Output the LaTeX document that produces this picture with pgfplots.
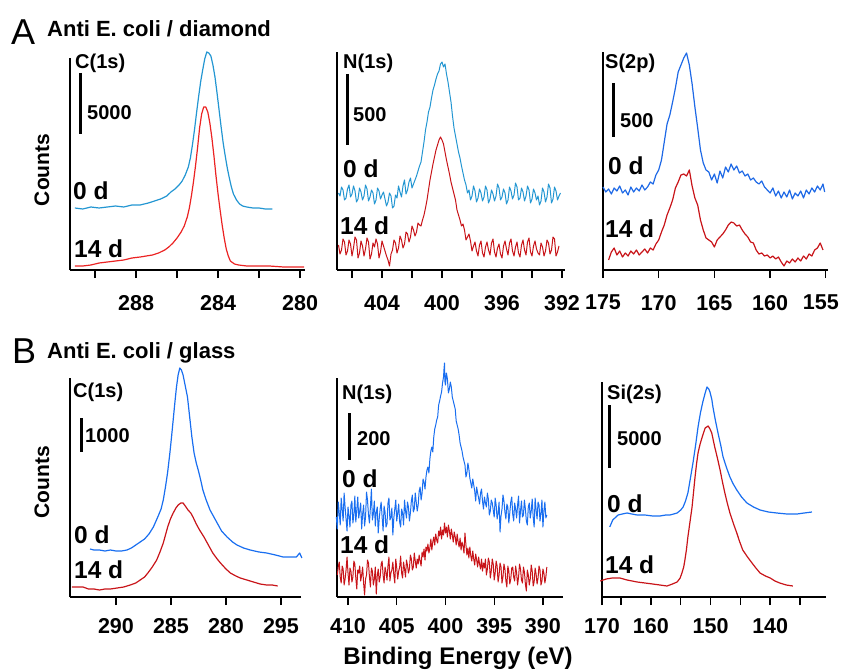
\documentclass[border=0pt]{standalone}
\usepackage{pgfplots}
\pgfplotsset{compat=1.18}
\usepackage{fontspec}
\setmainfont{Liberation Sans}
\definecolor{cyanb}{RGB}{35,150,210}
\definecolor{redA}{RGB}{235,35,35}
\definecolor{redD}{RGB}{200,20,25}
\definecolor{blueA}{RGB}{30,105,230}
\definecolor{blueB}{RGB}{25,110,240}
\newcommand{\tk}{\fontsize{21.5}{21.5}\selectfont\bfseries}
\newcommand{\lb}{\fontsize{20}{20}\selectfont\bfseries}
\newcommand{\dy}{\fontsize{24.5}{24.5}\selectfont\bfseries}
\pgfplotsset{
 panel/.style={
  scale only axis, anchor=south west, clip=false,
  axis x line*=bottom, axis y line=none,
  x dir=reverse, ymin=0,
  xtick align=outside, major tick length=8pt, minor tick length=8pt,
  tick style={line width=1.4pt, black},
  axis line style={line width=1.4pt},
  xticklabel style={font=\tk, inner sep=0pt},
  /pgf/number format/assume math mode=true,
  /pgf/number format/1000 sep={},
  every axis plot/.append style={line width=1.2pt, mark=none, line join=round},
 },
 toprow/.style={xticklabel style={yshift=-17pt}},
 botrow/.style={xticklabel style={yshift=-13pt}},
}
\begin{document}
\begin{tikzpicture}[x=1pt,y=1pt]
\useasboundingbox (0pt,0pt) rectangle (842pt,670pt);
% ---------------- A1 C(1s) diamond
\begin{axis}[panel, toprow, at={(70pt,400pt)}, width=235pt, height=212pt,
  xmin=279.76, xmax=291.22, ymax=212,
  xtick={288,284,280}, minor xtick={290,286,282}]
\draw[line width=1.4pt] (axis description cs:0,0) -- (axis description cs:0,1);
\addplot[cyanb] table[row sep=\\]{x y\\
290.98 62\\ 290.6 61\\ 290.2 63\\ 289.8 62\\ 289.4 63\\ 289.0 64\\ 288.6 63\\ 288.2 65\\ 287.8 65\\ 287.4 67\\
287.1 69\\ 286.8 71\\ 286.5 74\\ 286.3 78\\ 286.1 81\\ 285.9 85\\ 285.75 89\\ 285.6 95\\ 285.45 103\\ 285.35 112\\
285.25 125\\ 285.15 140\\ 285.05 157\\ 284.95 173\\ 284.85 188\\ 284.75 200\\ 284.65 211\\ 284.55 218\\ 284.45 217\\ 284.35 214\\
284.25 205\\ 284.15 193\\ 284.05 177\\ 283.95 160\\ 283.85 143\\ 283.75 127\\ 283.65 114\\ 283.55 102\\ 283.45 92\\ 283.35 83\\
283.25 76\\ 283.1 70\\ 282.95 66\\ 282.8 64\\ 282.6 63\\ 282.3 62\\ 282.0 62\\ 281.7 61\\ 281.35 61\\};
\addplot[redA] table[row sep=\\]{x y\\
290.98 4\\ 290.6 4\\ 290.2 5\\ 289.8 7\\ 289.4 8\\ 289.0 9\\ 288.6 10\\ 288.2 12\\ 287.8 13\\ 287.5 14\\
287.2 15\\ 286.9 17\\ 286.6 20\\ 286.4 23\\ 286.2 27\\ 286.0 32\\ 285.8 38\\ 285.65 44\\ 285.5 53\\ 285.4 62\\
285.3 74\\ 285.2 88\\ 285.1 104\\ 285.0 122\\ 284.9 142\\ 284.8 156\\ 284.7 163\\ 284.6 163\\ 284.5 158\\ 284.4 147\\
284.3 132\\ 284.2 114\\ 284.1 94\\ 284.0 76\\ 283.9 60\\ 283.8 45\\ 283.7 32\\ 283.6 21\\ 283.5 14\\ 283.4 9\\
283.2 6\\ 283.0 5\\ 282.6 4\\ 282.2 4\\ 281.5 4\\ 280.8 3\\ 280.2 3\\ 279.8 3\\};
\end{axis}
% ---------------- A2 N(1s) diamond
\begin{axis}[panel, toprow, at={(337pt,400pt)}, width=228pt, height=218pt,
  xmin=391.8, xmax=407.0, ymax=218,
  xtick={404,400,396,392}, minor xtick={406,402,398,394}]
\draw[line width=1.4pt] (axis description cs:0,0) -- (axis description cs:0,1);
\addplot[cyanb, line width=1pt] table[row sep=\\]{x y\\
406.9 77\\ 406.8 74\\ 406.7 83\\ 406.6 80\\ 406.5 70\\ 406.4 72\\ 406.3 81\\ 406.2 85\\ 406.1 73\\ 406.0 76\\
405.9 84\\ 405.8 79\\ 405.7 68\\ 405.6 71\\ 405.5 82\\ 405.4 78\\ 405.3 70\\ 405.2 74\\ 405.1 85\\ 405.0 81\\
404.9 69\\ 404.8 73\\ 404.7 80\\ 404.6 77\\ 404.5 66\\ 404.4 70\\ 404.3 82\\ 404.2 79\\ 404.1 71\\ 404.0 75\\
403.9 78\\ 403.8 71\\ 403.7 64\\ 403.6 68\\ 403.5 77\\ 403.4 74\\ 403.3 62\\ 403.2 64\\ 403.1 75\\ 403.0 72\\
402.9 84\\ 402.8 78\\ 402.7 73\\ 402.6 84\\ 402.5 90\\ 402.4 76\\ 402.3 80\\ 402.2 88\\ 402.1 92\\ 402.0 82\\
401.9 86\\ 401.8 90\\ 401.7 94\\ 401.6 99\\ 401.5 104\\ 401.4 108\\ 401.3 118\\ 401.2 128\\ 401.1 140\\ 401.0 148\\
400.9 158\\ 400.8 163\\ 400.7 172\\ 400.6 180\\ 400.5 185\\ 400.4 191\\ 400.3 196\\ 400.2 199\\ 400.1 206\\ 400.0 208\\
399.9 203\\ 399.8 206\\ 399.7 196\\ 399.6 188\\ 399.5 178\\ 399.4 168\\ 399.3 154\\ 399.2 142\\ 399.1 134\\ 399.0 126\\
398.9 118\\ 398.8 112\\ 398.7 104\\ 398.6 97\\ 398.5 90\\ 398.4 85\\ 398.3 77\\ 398.2 80\\ 398.1 70\\ 398.0 74\\
397.9 84\\ 397.8 79\\ 397.7 68\\ 397.6 72\\ 397.5 81\\ 397.4 77\\ 397.3 69\\ 397.2 73\\ 397.1 84\\ 397.0 80\\
396.9 67\\ 396.8 71\\ 396.7 80\\ 396.6 76\\ 396.5 69\\ 396.4 74\\ 396.3 86\\ 396.2 82\\ 396.1 70\\ 396.0 73\\
395.9 81\\ 395.8 77\\ 395.7 66\\ 395.6 70\\ 395.5 83\\ 395.4 79\\ 395.3 71\\ 395.2 75\\ 395.1 87\\ 395.0 83\\
394.9 70\\ 394.8 72\\ 394.7 82\\ 394.6 78\\ 394.5 69\\ 394.4 74\\ 394.3 84\\ 394.2 80\\ 394.1 67\\ 394.0 71\\
393.9 81\\ 393.8 77\\ 393.7 70\\ 393.6 74\\ 393.5 65\\ 393.4 69\\ 393.3 82\\ 393.2 78\\ 393.1 68\\ 393.0 73\\
392.9 86\\ 392.8 82\\ 392.7 67\\ 392.6 71\\ 392.5 83\\ 392.4 79\\ 392.3 70\\ 392.2 74\\ 392.1 77\\};
\addplot[redD, line width=1pt] table[row sep=\\]{x y\\
406.9 25\\ 406.8 16\\ 406.7 20\\ 406.6 31\\ 406.5 28\\ 406.4 15\\ 406.3 19\\ 406.2 30\\ 406.1 26\\ 406.0 14\\
405.9 22\\ 405.8 33\\ 405.7 30\\ 405.6 12\\ 405.5 17\\ 405.4 29\\ 405.3 24\\ 405.2 14\\ 405.1 21\\ 405.0 32\\
404.9 28\\ 404.8 11\\ 404.7 16\\ 404.6 27\\ 404.5 23\\ 404.4 31\\ 404.3 26\\ 404.2 12\\ 404.1 18\\ 404.0 29\\
403.9 24\\ 403.8 19\\ 403.7 14\\ 403.6 10\\ 403.5 4\\ 403.4 16\\ 403.3 20\\ 403.2 30\\ 403.1 27\\ 403.0 17\\
402.9 22\\ 402.8 34\\ 402.7 30\\ 402.6 22\\ 402.5 26\\ 402.4 38\\ 402.3 36\\ 402.2 28\\ 402.1 33\\ 402.0 44\\
401.9 40\\ 401.8 34\\ 401.7 38\\ 401.6 47\\ 401.5 45\\ 401.4 44\\ 401.3 50\\ 401.2 55\\ 401.1 62\\ 401.0 70\\
400.9 80\\ 400.8 90\\ 400.7 98\\ 400.6 106\\ 400.5 113\\ 400.4 120\\ 400.3 125\\ 400.2 130\\ 400.1 133\\ 400.0 130\\
399.9 126\\ 399.8 118\\ 399.7 110\\ 399.6 103\\ 399.5 96\\ 399.4 88\\ 399.3 82\\ 399.2 76\\ 399.1 70\\ 399.0 60\\
398.9 55\\ 398.8 50\\ 398.7 44\\ 398.6 46\\ 398.5 40\\ 398.4 30\\ 398.3 33\\ 398.2 36\\ 398.1 29\\ 398.0 19\\
397.9 24\\ 397.8 28\\ 397.7 19\\ 397.6 14\\ 397.5 25\\ 397.4 29\\ 397.3 17\\ 397.2 13\\ 397.1 23\\ 397.0 28\\
396.9 20\\ 396.8 15\\ 396.7 27\\ 396.6 31\\ 396.5 18\\ 396.4 13\\ 396.3 22\\ 396.2 26\\ 396.1 16\\ 396.0 12\\
395.9 24\\ 395.8 29\\ 395.7 21\\ 395.6 15\\ 395.5 27\\ 395.4 31\\ 395.3 19\\ 395.2 14\\ 395.1 23\\ 395.0 28\\
394.9 17\\ 394.8 13\\ 394.7 25\\ 394.6 30\\ 394.5 20\\ 394.4 15\\ 394.3 28\\ 394.2 32\\ 394.1 18\\ 394.0 14\\
393.9 24\\ 393.8 29\\ 393.7 21\\ 393.6 17\\ 393.5 15\\ 393.4 27\\ 393.3 23\\ 393.2 14\\ 393.1 19\\ 393.0 30\\
392.9 27\\ 392.8 16\\ 392.7 20\\ 392.6 33\\ 392.5 31\\ 392.4 14\\ 392.3 18\\ 392.2 24\\};
\end{axis}
% ---------------- A3 S(2p) diamond
\begin{axis}[panel, toprow, at={(603pt,400pt)}, width=225pt, height=218pt,
  xmin=154.8, xmax=175, ymax=218,
  xtick={175,170,165,160,155}, xticklabels={175,170,165,160,{\kern-10pt 155}}]
\draw[line width=1.4pt] (axis description cs:0,0) -- (axis description cs:0,1);
\addplot[blueA] table[row sep=\\]{x y\\
175.0 83\\ 174.75 78\\ 174.5 81\\ 174.25 76\\ 174.0 82\\ 173.75 79\\ 173.5 84\\ 173.25 77\\ 173.0 80\\ 172.75 75\\
172.5 83\\ 172.25 78\\ 172.0 82\\ 171.75 79\\ 171.5 85\\ 171.25 80\\ 171.0 83\\ 170.75 88\\ 170.5 86\\ 170.25 95\\
170.0 100\\ 169.75 110\\ 169.5 128\\ 169.25 146\\ 169.0 155\\ 168.75 168\\ 168.5 182\\ 168.25 198\\ 168.0 205\\ 167.75 212\\
167.5 217\\ 167.25 205\\ 167.0 186\\ 166.75 163\\ 166.5 142\\ 166.25 120\\ 166.0 107\\ 165.75 100\\ 165.5 98\\ 165.25 90\\
165.0 96\\ 164.75 87\\ 164.5 99\\ 164.25 92\\ 164.0 103\\ 163.75 98\\ 163.5 106\\ 163.25 100\\ 163.0 104\\ 162.75 97\\
162.5 99\\ 162.25 94\\ 162.0 96\\ 161.75 90\\ 161.5 92\\ 161.25 88\\ 161.0 86\\ 160.75 89\\ 160.5 83\\ 160.25 80\\
160.0 77\\ 159.75 82\\ 159.5 74\\ 159.25 79\\ 159.0 72\\ 158.75 78\\ 158.5 73\\ 158.25 80\\ 158.0 71\\ 157.75 77\\
157.5 74\\ 157.25 79\\ 157.0 72\\ 156.75 80\\ 156.5 76\\ 156.25 82\\ 156.0 78\\ 155.75 84\\ 155.5 80\\ 155.25 86\\ 155.1 78\\};
\addplot[redD] table[row sep=\\]{x y\\
174.5 10\\ 174.25 18\\ 174.0 22\\ 173.75 15\\ 173.5 19\\ 173.25 13\\ 173.0 17\\ 172.75 14\\ 172.5 19\\ 172.25 16\\
172.0 20\\ 171.75 15\\ 171.5 18\\ 171.25 21\\ 171.0 17\\ 170.75 22\\ 170.5 20\\ 170.25 26\\ 170.0 30\\ 169.75 38\\
169.5 45\\ 169.25 55\\ 169.0 62\\ 168.75 70\\ 168.5 82\\ 168.25 88\\ 168.0 95\\ 167.75 96\\ 167.5 94\\ 167.25 100\\
167.0 84\\ 166.75 72\\ 166.5 65\\ 166.25 50\\ 166.0 40\\ 165.75 32\\ 165.5 30\\ 165.25 28\\ 165.0 23\\ 164.75 30\\
164.5 33\\ 164.25 36\\ 164.0 40\\ 163.75 45\\ 163.5 48\\ 163.25 47\\ 163.0 44\\ 162.75 45\\ 162.5 40\\ 162.25 36\\
162.0 33\\ 161.75 28\\ 161.5 27\\ 161.25 20\\ 161.0 16\\ 160.75 17\\ 160.5 14\\ 160.25 15\\ 160.0 12\\ 159.75 14\\
159.5 11\\ 159.25 13\\ 159.0 8\\ 158.75 4\\ 158.5 9\\ 158.25 7\\ 158.0 11\\ 157.75 8\\ 157.5 12\\ 157.25 9\\
157.0 14\\ 156.75 11\\ 156.5 16\\ 156.25 14\\ 156.0 20\\ 155.75 22\\ 155.5 27\\ 155.25 20\\};
\end{axis}
% ---------------- B1 C(1s) glass
\begin{axis}[panel, botrow, at={(70pt,73pt)}, width=231pt, height=219pt,
  xmin=273.18, xmax=294.18, ymax=219,
  xtick={290,285,280,275}, xticklabels={290,285,280,295}]
\draw[line width=1.4pt] (axis description cs:0,0) -- (axis description cs:0,1);
\addplot[blueB] table[row sep=\\]{x y\\
292.36 48\\ 292.0 47\\ 291.5 47\\ 291.0 46\\ 290.5 47\\ 290.0 46\\ 289.5 46\\ 289.0 47\\ 288.6 49\\ 288.2 52\\
287.8 55\\ 287.4 58\\ 287.0 63\\ 286.6 70\\ 286.2 80\\ 285.9 88\\ 285.7 97\\ 285.5 110\\ 285.3 125\\ 285.1 144\\
284.95 160\\ 284.8 177\\ 284.65 194\\ 284.5 210\\ 284.35 222\\ 284.2 229\\ 284.05 227\\ 283.9 222\\ 283.7 211\\ 283.5 200\\
283.3 180\\ 283.1 160\\ 282.9 144\\ 282.7 134\\ 282.5 126\\ 282.3 117\\ 282.1 107\\ 281.8 97\\ 281.45 87\\ 281.1 80\\
280.8 74\\ 280.4 66\\ 279.9 60\\ 279.4 55\\ 279.0 52\\ 278.4 49\\ 277.8 47\\ 277.0 45\\ 276.3 44\\ 275.5 42\\
274.8 40\\ 274.2 40\\ 273.6 40\\ 273.3 44\\ 273.1 39\\};
\addplot[redD] table[row sep=\\]{x y\\
294.0 10\\ 293.5 10\\ 293.0 10\\ 292.5 8\\ 292.0 8\\ 291.5 7\\ 291.0 8\\ 290.5 8\\ 289.9 9\\ 289.3 10\\
288.7 12\\ 288.2 14\\ 287.8 17\\ 287.4 20\\ 287.1 24\\ 286.7 30\\ 286.3 37\\ 286.0 45\\ 285.7 54\\ 285.5 62\\
285.3 70\\ 285.05 78\\ 284.8 84\\ 284.55 89\\ 284.35 92\\ 284.1 94\\ 283.9 94\\ 283.7 91\\ 283.45 87\\ 283.2 84\\
283.0 80\\ 282.7 73\\ 282.4 67\\ 282.0 60\\ 281.7 54\\ 281.4 48\\ 281.2 44\\ 280.8 38\\ 280.5 34\\ 280.0 28\\
279.6 24\\ 279.1 21\\ 278.7 19\\ 278.1 17\\ 277.5 15\\ 276.9 13\\ 276.3 12\\ 275.8 12\\ 275.3 11\\};
\end{axis}
% ---------------- B2 N(1s) glass
\begin{axis}[panel, botrow, at={(337pt,73pt)}, width=226pt, height=219pt,
  xmin=387.94, xmax=411.13, ymax=219,
  xtick={410,405,400,395,390}]
\draw[line width=1.4pt] (axis description cs:0,0) -- (axis description cs:0,1);
\addplot[blueB, line width=1pt] table[row sep=\\]{x y\\
411.2 80\\ 411.1 68\\ 411.0 95\\ 410.9 84\\ 410.8 72\\ 410.7 99\\ 410.6 88\\ 410.5 76\\ 410.4 104\\ 410.3 90\\
410.2 78\\ 410.1 66\\ 410.0 90\\ 409.9 81\\ 409.8 70\\ 409.7 92\\ 409.6 96\\ 409.5 74\\ 409.4 82\\ 409.3 101\\
409.2 75\\ 409.1 87\\ 409.0 100\\ 408.9 79\\ 408.8 86\\ 408.7 94\\ 408.6 68\\ 408.5 83\\ 408.4 92\\ 408.3 71\\
408.2 80\\ 408.1 105\\ 408.0 97\\ 407.9 82\\ 407.8 74\\ 407.7 90\\ 407.6 108\\ 407.5 77\\ 407.4 83\\ 407.3 96\\
407.2 71\\ 407.1 85\\ 407.0 90\\ 406.9 64\\ 406.8 78\\ 406.7 88\\ 406.6 95\\ 406.5 80\\ 406.4 66\\ 406.3 91\\
406.2 85\\ 406.1 70\\ 406.0 73\\ 405.9 94\\ 405.8 99\\ 405.7 77\\ 405.6 80\\ 405.5 89\\ 405.4 62\\ 405.3 79\\
405.2 88\\ 405.1 97\\ 405.0 76\\ 404.9 84\\ 404.8 93\\ 404.7 75\\ 404.6 70\\ 404.5 88\\ 404.4 84\\ 404.3 72\\
404.2 97\\ 404.1 86\\ 404.0 79\\ 403.9 95\\ 403.8 90\\ 403.7 76\\ 403.6 84\\ 403.5 96\\ 403.4 102\\ 403.3 85\\
403.2 88\\ 403.1 104\\ 403.0 95\\ 402.9 86\\ 402.8 92\\ 402.7 106\\ 402.6 110\\ 402.5 97\\ 402.4 104\\ 402.3 118\\
402.2 115\\ 402.1 108\\ 402.0 120\\ 401.9 127\\ 401.8 130\\ 401.7 124\\ 401.6 138\\ 401.5 146\\ 401.4 150\\ 401.3 145\\
401.2 160\\ 401.1 168\\ 401.0 172\\ 400.9 177\\ 400.8 180\\ 400.7 192\\ 400.6 196\\ 400.5 201\\ 400.4 205\\ 400.3 214\\
400.2 220\\ 400.15 228\\ 400.1 234\\ 400.05 215\\ 400.0 212\\ 399.9 224\\ 399.8 218\\ 399.7 204\\ 399.6 208\\ 399.5 215\\
399.4 210\\ 399.3 200\\ 399.2 196\\ 399.1 192\\ 399.0 188\\ 398.9 176\\ 398.8 172\\ 398.7 168\\ 398.6 162\\ 398.5 154\\
398.4 150\\ 398.3 146\\ 398.2 140\\ 398.1 136\\ 398.0 132\\ 397.9 120\\ 397.8 124\\ 397.7 134\\ 397.6 128\\ 397.5 119\\
397.4 114\\ 397.3 109\\ 397.2 118\\ 397.1 112\\ 397.0 106\\ 396.9 96\\ 396.8 110\\ 396.7 104\\ 396.6 99\\ 396.5 93\\
396.4 104\\ 396.3 108\\ 396.2 96\\ 396.1 88\\ 396.0 100\\ 395.9 94\\ 395.8 90\\ 395.7 104\\ 395.6 98\\ 395.5 82\\
395.4 86\\ 395.3 97\\ 395.2 94\\ 395.1 87\\ 395.0 80\\ 394.9 99\\ 394.8 92\\ 394.7 78\\ 394.6 84\\ 394.5 95\\
394.4 65\\ 394.3 81\\ 394.2 88\\ 394.1 102\\ 394.0 96\\ 393.9 85\\ 393.8 78\\ 393.7 93\\ 393.6 90\\ 393.5 74\\
393.4 84\\ 393.3 95\\ 393.2 100\\ 393.1 83\\ 393.0 76\\ 392.9 94\\ 392.8 88\\ 392.7 79\\ 392.6 92\\ 392.5 101\\
392.4 74\\ 392.3 86\\ 392.2 96\\ 392.1 80\\ 392.0 82\\ 391.9 97\\ 391.8 88\\ 391.7 76\\ 391.6 72\\ 391.5 90\\
391.4 94\\ 391.3 79\\ 391.2 86\\ 391.1 98\\ 391.0 80\\ 390.9 70\\ 390.8 99\\ 390.7 87\\ 390.6 78\\ 390.5 95\\
390.4 92\\ 390.3 76\\ 390.2 84\\ 390.1 97\\ 390.0 70\\ 389.9 86\\ 389.8 95\\ 389.7 79\\ 389.6 82\\};
\addplot[redD, line width=1pt] table[row sep=\\]{x y\\
411.1 22\\ 411.0 30\\ 410.9 35\\ 410.8 20\\ 410.7 14\\ 410.6 31\\ 410.5 28\\ 410.4 12\\ 410.3 18\\ 410.2 27\\
410.1 40\\ 410.0 24\\ 409.9 12\\ 409.8 29\\ 409.7 26\\ 409.6 15\\ 409.5 20\\ 409.4 36\\ 409.3 33\\ 409.2 19\\
409.1 8\\ 409.0 27\\ 408.9 24\\ 408.8 31\\ 408.7 16\\ 408.6 22\\ 408.5 30\\ 408.4 14\\ 408.3 2\\ 408.2 18\\
408.1 22\\ 408.0 37\\ 407.9 34\\ 407.8 20\\ 407.7 10\\ 407.6 29\\ 407.5 26\\ 407.4 12\\ 407.3 18\\ 407.2 30\\
407.1 3\\ 407.0 21\\ 406.9 28\\ 406.8 15\\ 406.7 20\\ 406.6 33\\ 406.5 36\\ 406.4 22\\ 406.3 14\\ 406.2 30\\
406.1 25\\ 406.0 17\\ 405.9 31\\ 405.8 40\\ 405.7 16\\ 405.6 24\\ 405.5 27\\ 405.4 35\\ 405.3 22\\ 405.2 14\\
405.1 38\\ 405.0 29\\ 404.9 18\\ 404.8 26\\ 404.7 30\\ 404.6 41\\ 404.5 24\\ 404.4 19\\ 404.3 35\\ 404.2 28\\
404.1 20\\ 404.0 37\\ 403.9 32\\ 403.8 24\\ 403.7 28\\ 403.6 42\\ 403.5 38\\ 403.4 27\\ 403.3 30\\ 403.2 44\\
403.1 36\\ 403.0 29\\ 402.9 38\\ 402.8 33\\ 402.7 42\\ 402.6 36\\ 402.5 31\\ 402.4 45\\ 402.3 40\\ 402.2 48\\
402.1 37\\ 402.0 50\\ 401.9 46\\ 401.8 53\\ 401.7 44\\ 401.6 49\\ 401.5 58\\ 401.4 47\\ 401.3 55\\ 401.2 60\\
401.1 52\\ 401.0 63\\ 400.9 57\\ 400.8 54\\ 400.7 66\\ 400.6 61\\ 400.5 70\\ 400.4 58\\ 400.3 67\\ 400.2 62\\
400.1 74\\ 400.0 64\\ 399.9 70\\ 399.8 60\\ 399.7 72\\ 399.6 66\\ 399.5 58\\ 399.4 68\\ 399.3 62\\ 399.2 55\\
399.1 65\\ 399.0 60\\ 398.9 52\\ 398.8 63\\ 398.7 55\\ 398.6 50\\ 398.5 59\\ 398.4 47\\ 398.3 55\\ 398.2 51\\
398.1 44\\ 398.0 64\\ 397.9 52\\ 397.8 42\\ 397.7 49\\ 397.6 39\\ 397.5 50\\ 397.4 41\\ 397.3 36\\ 397.2 46\\
397.1 38\\ 397.0 32\\ 396.9 43\\ 396.8 37\\ 396.7 30\\ 396.6 40\\ 396.5 33\\ 396.4 28\\ 396.3 38\\ 396.2 26\\
396.1 34\\ 396.0 29\\ 395.9 38\\ 395.8 22\\ 395.7 28\\ 395.6 39\\ 395.5 35\\ 395.4 19\\ 395.3 26\\ 395.2 38\\
395.1 33\\ 395.0 17\\ 394.9 24\\ 394.8 36\\ 394.7 31\\ 394.6 15\\ 394.5 22\\ 394.4 34\\ 394.3 30\\ 394.2 14\\
394.1 20\\ 394.0 33\\ 393.9 28\\ 393.8 16\\ 393.7 10\\ 393.6 31\\ 393.5 26\\ 393.4 13\\ 393.3 18\\ 393.2 29\\
393.1 30\\ 393.0 20\\ 392.9 16\\ 392.8 31\\ 392.7 24\\ 392.6 12\\ 392.5 20\\ 392.4 33\\ 392.3 28\\ 392.2 17\\
392.1 14\\ 392.0 30\\ 391.9 25\\ 391.8 13\\ 391.7 6\\ 391.6 27\\ 391.5 22\\ 391.4 12\\ 391.3 18\\ 391.2 32\\
391.1 26\\ 391.0 11\\ 390.9 15\\ 390.8 29\\ 390.7 23\\ 390.6 13\\ 390.5 19\\ 390.4 31\\ 390.3 27\\ 390.2 12\\
390.1 16\\ 390.0 28\\ 389.9 24\\ 389.8 14\\ 389.7 20\\ 389.6 30\\};
\end{axis}
% ---------------- B3 Si(2s) glass
\begin{axis}[panel, botrow, at={(602pt,73pt)}, width=224pt, height=215pt,
  xmin=130.64, xmax=168.2, ymax=215,
  xtick={168.2,160,150,140}, xticklabels={170,160,150,140},
  minor xtick={165,155,145,135}]
\draw[line width=1.4pt] (axis description cs:0,0) -- (axis description cs:0,1);
\addplot[blueB] table[row sep=\\]{x y\\
166.9 70\\ 166.4 77\\ 165.5 82\\ 164.8 83\\ 164.0 84\\ 163.2 83\\ 162.3 82\\ 161.0 82\\ 159.7 81\\ 158.5 81\\
157.5 82\\ 156.8 82\\ 156.2 83\\ 155.6 84\\ 155.0 87\\ 154.6 90\\ 154.2 96\\ 153.8 104\\ 153.4 118\\ 152.95 134\\
152.5 152\\ 152.1 170\\ 151.7 184\\ 151.3 195\\ 150.9 204\\ 150.6 210\\ 150.3 208\\ 150.1 205\\ 149.8 198\\ 149.6 190\\
149.2 177\\ 148.75 164\\ 148.3 152\\ 147.9 140\\ 147.3 129\\ 146.75 120\\ 146.2 113\\ 145.6 107\\ 144.8 100\\ 143.9 94\\
142.8 90\\ 141.7 87\\ 140.3 85\\ 138.9 84\\ 137.2 83\\ 135.5 83\\ 134.3 84\\ 133.0 85\\};
\addplot[redD] table[row sep=\\]{x y\\
168.5 16\\ 167.5 18\\ 166.5 19\\ 165.2 19\\ 164.0 17\\ 162.3 15\\ 161.0 14\\ 159.7 13\\ 158.5 12\\ 157.3 11\\
156.4 13\\ 155.6 15\\ 155.1 19\\ 154.8 24\\ 154.5 30\\ 154.3 37\\ 154.05 47\\ 153.8 60\\ 153.45 75\\ 153.1 90\\
152.85 105\\ 152.6 120\\ 152.35 133\\ 152.1 144\\ 151.75 153\\ 151.4 160\\ 150.9 169\\ 150.4 171\\ 150.1 168\\ 149.8 164\\
149.55 157\\ 149.3 150\\ 148.85 139\\ 148.4 127\\ 148.0 115\\ 147.6 104\\ 147.2 94\\ 146.75 84\\ 146.2 74\\ 145.6 64\\
145.1 55\\ 144.6 47\\ 143.8 40\\ 143.05 34\\ 142.4 29\\ 141.7 24\\ 140.8 21\\ 140.0 19\\ 139.2 16\\ 138.4 14\\
137.3 12\\ 136.2 11\\};
\end{axis}
% ---------------- annotations
\node[anchor=base west, inner sep=0pt, font=\fontsize{36}{36}\selectfont] at (11pt,625pt) {A};
\node[anchor=base west, inner sep=0pt, font=\fontsize{22}{22}\selectfont\bfseries] at (47pt,633pt) {Anti E. coli / diamond};
\node[anchor=base west, inner sep=0pt, font=\fontsize{36}{36}\selectfont] at (12pt,307pt) {B};
\node[anchor=base west, inner sep=0pt, font=\fontsize{22}{22}\selectfont\bfseries] at (47pt,312pt) {Anti E. coli / glass};
\node[rotate=90, inner sep=0pt, font=\fontsize{21}{21}\selectfont\bfseries] at (42pt,500pt) {Counts};
\node[rotate=90, inner sep=0pt, font=\fontsize{21}{21}\selectfont\bfseries] at (42pt,188pt) {Counts};
\node[anchor=base, inner sep=0pt, font=\fontsize{24}{24}\selectfont\bfseries] at (458pt,6pt) {Binding Energy (eV)};
% A1
\node[anchor=base west, inner sep=0pt, font=\lb] at (75pt,601pt) {C(1s)};
\draw[line width=3pt] (80pt,597pt) -- (80pt,536pt);
\node[anchor=base west, inner sep=0pt, font=\lb] at (87pt,550pt) {5000};
\node[anchor=base west, inner sep=0pt, font=\dy] at (73pt,470pt) {0 d};
\node[anchor=base west, inner sep=0pt, font=\dy] at (74pt,412pt) {14 d};
% A2
\node[anchor=base west, inner sep=0pt, font=\lb] at (343pt,601pt) {N(1s)};
\draw[line width=3pt] (347pt,596pt) -- (347pt,525pt);
\node[anchor=base west, inner sep=0pt, font=\lb] at (353pt,548pt) {500};
\node[anchor=base west, inner sep=0pt, font=\dy] at (343pt,492pt) {0 d};
\node[anchor=base west, inner sep=0pt, font=\dy] at (340pt,435pt) {14 d};
% A3
\node[anchor=base west, inner sep=0pt, font=\lb] at (605pt,601pt) {S(2p)};
\draw[line width=3pt] (613pt,587pt) -- (613pt,533pt);
\node[anchor=base west, inner sep=0pt, font=\lb] at (620pt,542pt) {500};
\node[anchor=base west, inner sep=0pt, font=\dy] at (608pt,495pt) {0 d};
\node[anchor=base west, inner sep=0pt, font=\dy] at (605pt,432pt) {14 d};
% B1
\node[anchor=base west, inner sep=0pt, font=\lb] at (73pt,273pt) {C(1s)};
\draw[line width=3pt] (81pt,252pt) -- (81pt,218pt);
\node[anchor=base west, inner sep=0pt, font=\lb] at (85pt,228pt) {1000};
\node[anchor=base west, inner sep=0pt, font=\dy] at (74pt,127pt) {0 d};
\node[anchor=base west, inner sep=0pt, font=\dy] at (74pt,92pt) {14 d};
% B2
\node[anchor=base west, inner sep=0pt, font=\lb] at (342pt,271pt) {N(1s)};
\draw[line width=3pt] (349pt,257pt) -- (349pt,210pt);
\node[anchor=base west, inner sep=0pt, font=\lb] at (357pt,225pt) {200};
\node[anchor=base west, inner sep=0pt, font=\dy] at (342pt,183pt) {0 d};
\node[anchor=base west, inner sep=0pt, font=\dy] at (340pt,117pt) {14 d};
% B3
\node[anchor=base west, inner sep=0pt, font=\lb] at (607pt,271pt) {Si(2s)};
\draw[line width=3pt] (609pt,265pt) -- (609pt,202pt);
\node[anchor=base west, inner sep=0pt, font=\lb] at (617pt,225pt) {5000};
\node[anchor=base west, inner sep=0pt, font=\dy] at (607pt,158pt) {0 d};
\node[anchor=base west, inner sep=0pt, font=\dy] at (605pt,97pt) {14 d};
\end{tikzpicture}
\end{document}
